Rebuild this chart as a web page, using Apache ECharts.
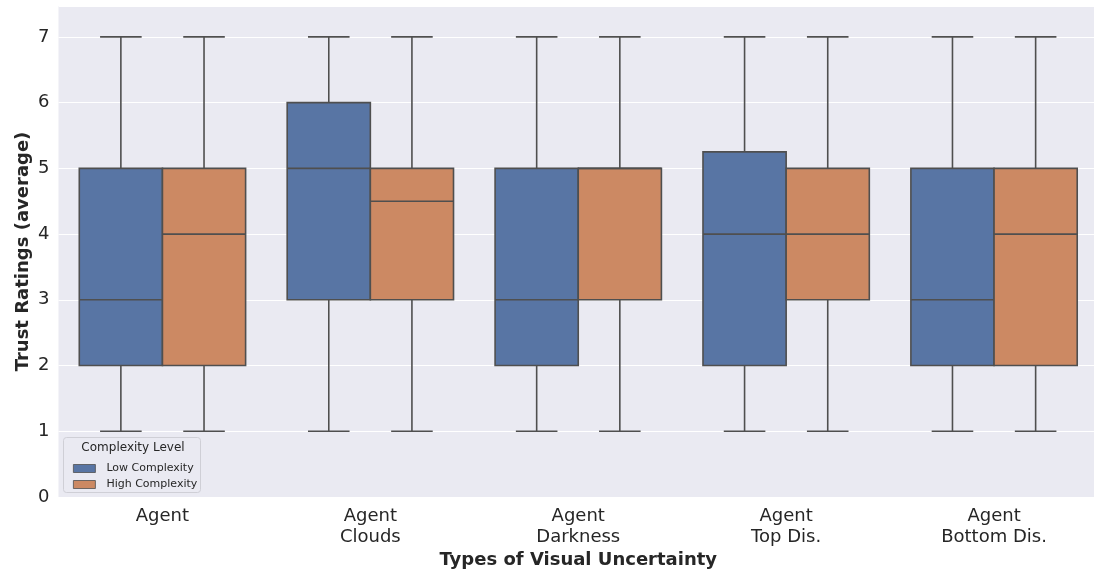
<!DOCTYPE html>
<html>
<head>
<meta charset="utf-8">
<script src="https://cdn.jsdelivr.net/npm/echarts@6/dist/echarts.min.js"></script>
<style>
  html, body { margin: 0; padding: 0; background: #ffffff; }
  #chart { width: 1094px; height: 572px; }
</style>
</head>
<body>
<div id="chart"></div>
<script>
// Uncertainty conditions shown along the x axis
const categories = ['Agent', 'Agent\nClouds', 'Agent\nDarkness', 'Agent\nTop Dis.', 'Agent\nBottom Dis.'];
const seriesNames = ['Low Complexity', 'High Complexity'];

// Box statistics per condition: [min, Q1, median, Q3, max]
const lowComplexity = [
  [1, 2, 3, 5, 7],
  [1, 3, 5, 6, 7],
  [1, 2, 3, 5, 7],
  [1, 2, 4, 5.25, 7],
  [1, 2, 3, 5, 7]
];
const highComplexity = [
  [1, 2, 4, 5, 7],
  [1, 3, 4.5, 5, 7],
  [1, 3, 5, 5, 7],
  [1, 3, 4, 5, 7],
  [1, 2, 4, 5, 7]
];
const yTicks = [0, 1, 2, 3, 4, 5, 6, 7];

const FONT = 'DejaVu Sans';
const TEXT = '#262626';
const LINE = '#4f4f4f';
const COLORS = ['#5875A4', '#CC8963'];

function rows(stats) {
  return stats.map((s, i) => [i].concat(s));
}

// Draws one box with half-width whisker caps; slot 0 = left, slot 1 = right within the category
function boxRenderer(slot, fill) {
  return function (params, api) {
    const cat = api.value(0);
    const band = api.size([1, 0])[0];
    const bw = band * 0.4;
    const cx = api.coord([cat, 0])[0] + (slot - 0.5) * bw;
    const y = k => api.coord([cat, api.value(k)])[1];
    const yMin = y(1), yQ1 = y(2), yMed = y(3), yQ3 = y(4), yMax = y(5);
    const ls = { stroke: LINE, lineWidth: 1.6 };
    const cap = bw / 4;
    return {
      type: 'group',
      children: [
        { type: 'line', shape: { x1: cx, y1: yQ3, x2: cx, y2: yMax }, style: ls },
        { type: 'line', shape: { x1: cx, y1: yQ1, x2: cx, y2: yMin }, style: ls },
        { type: 'line', shape: { x1: cx - cap, y1: yMax, x2: cx + cap, y2: yMax }, style: ls },
        { type: 'line', shape: { x1: cx - cap, y1: yMin, x2: cx + cap, y2: yMin }, style: ls },
        { type: 'rect', shape: { x: cx - bw / 2, y: yQ3, width: bw, height: yQ1 - yQ3 },
          style: { fill: fill, stroke: LINE, lineWidth: 1.6 } },
        { type: 'line', shape: { x1: cx - bw / 2, y1: yMed, x2: cx + bw / 2, y2: yMed }, style: ls }
      ]
    };
  };
}

const chart = echarts.init(document.getElementById('chart'), null, { renderer: 'canvas' });

chart.setOption({
  animation: false,
  textStyle: { fontFamily: FONT },
  grid: {
    left: 58.5, top: 6, width: 1039.5, height: 491,
    outerBoundsMode: 'none',
    containLabel: false,
    show: true, backgroundColor: '#EAEAF2', borderWidth: 0
  },
  xAxis: {
    type: 'category',
    data: categories,
    boundaryGap: true,
    axisLine: { show: false },
    axisTick: { show: false },
    splitLine: { show: false },
    axisLabel: { color: TEXT, fontSize: 18, lineHeight: 21, margin: 9, fontFamily: FONT },
    name: 'Types of Visual Uncertainty',
    nameLocation: 'middle',
    nameMoveOverlap: false,
    nameGap: 54,
    nameTextStyle: { color: TEXT, fontSize: 18, fontWeight: 'bold', fontFamily: FONT }
  },
  yAxis: {
    type: 'value',
    min: 0,
    max: 7.47,
    interval: 1,
    axisLine: { show: false },
    axisTick: { show: false },
    splitLine: { show: true, lineStyle: { color: '#ffffff', width: 1.2 } },
    axisLabel: {
      color: TEXT, fontSize: 18, margin: 9, fontFamily: FONT,
      formatter: v => (yTicks.indexOf(v) >= 0 ? String(v) : '')
    },
    name: 'Trust Ratings (average)',
    nameLocation: 'middle',
    nameMoveOverlap: false,
    nameRotate: 90,
    nameGap: 26,
    nameTextStyle: { color: TEXT, fontSize: 18, fontWeight: 'bold', fontFamily: FONT }
  },
  legend: {
    orient: 'vertical',
    left: 68,
    top: 458,
    itemWidth: 22,
    itemHeight: 8,
    itemGap: 5,
    textStyle: { color: TEXT, fontSize: 11, fontFamily: FONT, padding: [0, 0, 0, 6] },
    data: seriesNames.map((n, i) => ({
      name: n, icon: 'rect',
      itemStyle: { color: COLORS[i], borderColor: LINE, borderWidth: 0.8 }
    }))
  },
  graphic: [
    {
      type: 'rect', z: 0,
      shape: { x: 63.5, y: 437.5, width: 137, height: 55, r: 3 },
      style: { fill: '#EAEAF2', stroke: '#cfcfd6', lineWidth: 1 }
    },
    {
      type: 'text', z: 1,
      style: {
        x: 133, y: 448, text: 'Complexity Level', fill: TEXT,
        font: '12px "DejaVu Sans"', align: 'center', verticalAlign: 'middle'
      }
    }
  ],
  series: [
    {
      name: seriesNames[0], type: 'custom',
      itemStyle: { color: COLORS[0] },
      encode: { x: 0, y: [1, 2, 3, 4, 5] },
      data: rows(lowComplexity),
      renderItem: boxRenderer(0, COLORS[0])
    },
    {
      name: seriesNames[1], type: 'custom',
      itemStyle: { color: COLORS[1] },
      encode: { x: 0, y: [1, 2, 3, 4, 5] },
      data: rows(highComplexity),
      renderItem: boxRenderer(1, COLORS[1])
    }
  ]
});
</script>
</body>
</html>
